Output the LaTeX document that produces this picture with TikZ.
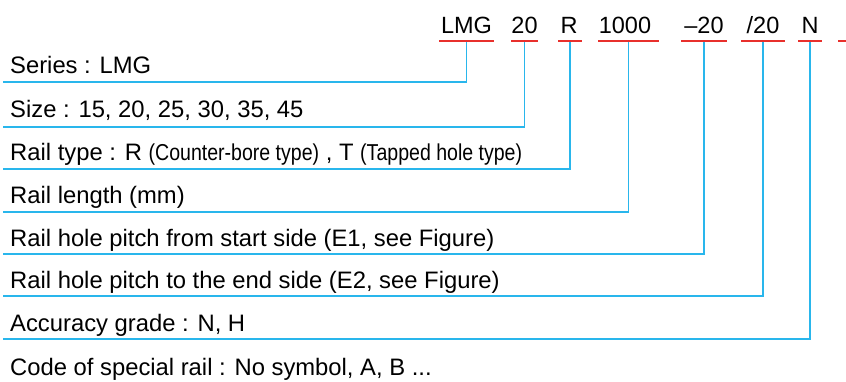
\documentclass[tikz,border=0pt]{standalone}
\usepackage{fontspec}
\setmainfont{Liberation Sans}
\newfontfamily\narrowfont[FakeStretch=0.85]{Liberation Sans}
\usepackage{tikz}
\definecolor{codered}{RGB}{232,48,44}
\definecolor{linkblue}{RGB}{41,182,236}

\begin{document}
\begin{tikzpicture}[x=1pt,y=-1pt,
    code/.style={anchor=base,inner sep=0pt,font=\fontsize{23.5}{27}\selectfont},
    label/.style={anchor=base west,inner sep=0pt,font=\fontsize{23.8}{27}\selectfont},
    bar/.style={fill=codered,inner sep=0pt,minimum height=2.4pt},
    link/.style={draw=linkblue,line width=1.1pt}]
    \useasboundingbox (0,0) rectangle (846,381);
    % ordering code
    \node[code] (lmg) at (466.5,33) {LMG};
    \node[code] (size) at (524.5,33) {20};
    \node[code] (type) at (569,33) {R};
    \node[code] (len) at (625,33) {1000};
    \node[code] (eone) at (704,33) {\textendash 20};
    \node[code] (etwo) at (763,33) {/20};
    \node[code] (grade) at (810,33) {N};
    % red bars
    \node[bar,minimum width=55pt] (b-lmg) at (466.5,41) {};
    \node[bar,minimum width=27pt] (b-size) at (524.5,41) {};
    \node[bar,minimum width=24pt] (b-type) at (570,41) {};
    \node[bar,minimum width=61pt] (b-len) at (628.5,41) {};
    \node[bar,minimum width=46pt] (b-eone) at (704,41) {};
    \node[bar,minimum width=44pt] (b-etwo) at (763,41) {};
    \node[bar,minimum width=24pt] (b-grade) at (810,41) {};
    \node[bar,minimum width=16pt] (b-spec) at (846,41) {};
    % labels
    \node[label] (l-series) at (10,73) {Series : LMG};
    \node[label] (l-size) at (10,117) {Size : 15, 20, 25, 30, 35, 45};
    \node[label] (l-type) at (10,160) {Rail type : R {\narrowfont\fontsize{23}{27}\selectfont(Counter-bore type)} , T {\narrowfont\fontsize{23}{27}\selectfont(Tapped hole type)}};
    \node[label] (l-len) at (10,203) {Rail length (mm)};
    \node[label] (l-eone) at (10,246) {Rail hole pitch from start side (E1, see Figure)};
    \node[label] (l-etwo) at (10,288) {Rail hole pitch to the end side (E2, see Figure)};
    \node[label] (l-grade) at (10,331) {Accuracy grade : N, H};
    \node[label] (l-spec) at (10,375) {Code of special rail : No symbol, A, B ...};
    % line ends
    \coordinate (e-series) at (3,82);
    \coordinate (e-size) at (3,127);
    \coordinate (e-type) at (3,169);
    \coordinate (e-len) at (3,212);
    \coordinate (e-eone) at (3,254);
    \coordinate (e-etwo) at (3,296);
    \coordinate (e-grade) at (3,339);
    % connectors
    \draw[link] (b-lmg.south) |- (e-series);
    \draw[link] (b-size.south) |- (e-size);
    \draw[link] (b-type.south) |- (e-type);
    \draw[link] (b-len.south) |- (e-len);
    \draw[link] (b-eone.south) |- (e-eone);
    \draw[link] (b-etwo.south) |- (e-etwo);
    \draw[link] (b-grade.south) |- (e-grade);
\end{tikzpicture}
\end{document}
